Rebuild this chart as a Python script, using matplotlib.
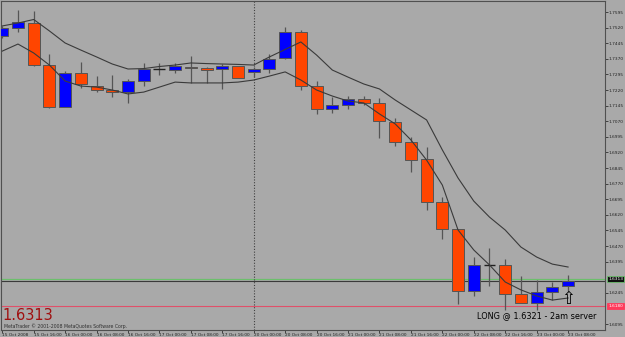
import matplotlib
matplotlib.use("Agg")
import matplotlib.pyplot as plt
import matplotlib.transforms as mtransforms
import numpy as np

# GBPUSD H4 candles, 15 Oct 08:00 .. 23 Oct 08:00
opens  = [1.7480, 1.7518, 1.7542, 1.7340, 1.7138, 1.7302, 1.7239, 1.7220, 1.7210, 1.7263,
          1.7321, 1.7316, 1.7333, 1.7327, 1.7319, 1.7335, 1.7305, 1.7319, 1.7374, 1.7499,
          1.7239, 1.7129, 1.7148, 1.7177, 1.7158, 1.7066, 1.6970, 1.6888, 1.6682, 1.6552,
          1.6254, 1.6379, 1.6379, 1.6239, 1.6196, 1.6249, 1.6278]
highs  = [1.7528, 1.7605, 1.7600, 1.7393, 1.7311, 1.7355, 1.7287, 1.7292, 1.7273, 1.7350,
          1.7350, 1.7350, 1.7383, 1.7331, 1.7345, 1.7335, 1.7331, 1.7393, 1.7523, 1.7508,
          1.7263, 1.7186, 1.7191, 1.7191, 1.7182, 1.7085, 1.6994, 1.6946, 1.6706, 1.6552,
          1.6417, 1.6460, 1.6408, 1.6326, 1.6307, 1.6297, 1.6331]
lows   = [1.7470, 1.7499, 1.7335, 1.7133, 1.7136, 1.7230, 1.7210, 1.7186, 1.7158, 1.7239,
          1.7292, 1.7302, 1.7254, 1.7254, 1.7225, 1.7278, 1.7282, 1.7302, 1.7369, 1.7220,
          1.7105, 1.7109, 1.7129, 1.7148, 1.6989, 1.6951, 1.6826, 1.6643, 1.6504, 1.6191,
          1.6230, 1.6278, 1.6162, 1.6196, 1.6162, 1.6210, 1.6249]
closes = [1.7518, 1.7547, 1.7340, 1.7138, 1.7302, 1.7249, 1.7220, 1.7210, 1.7263, 1.7321,
          1.7321, 1.7335, 1.7327, 1.7316, 1.7337, 1.7279, 1.7321, 1.7369, 1.7499, 1.7239,
          1.7129, 1.7148, 1.7177, 1.7158, 1.7071, 1.6970, 1.6883, 1.6682, 1.6552, 1.6254,
          1.6379, 1.6379, 1.6239, 1.6196, 1.6249, 1.6273, 1.6302]

ma_slow = [1.7528, 1.7542, 1.7559, 1.7504, 1.7446, 1.7412, 1.7379, 1.7345, 1.7321, 1.7323,
           1.7333, 1.7340, 1.7350, 1.7347, 1.7345, 1.7343, 1.7340, 1.7379, 1.7415, 1.7451,
           1.7388, 1.7316, 1.7282, 1.7249, 1.7225, 1.7172, 1.7124, 1.7076, 1.6932, 1.6797,
           1.6686, 1.6609, 1.6547, 1.6465, 1.6417, 1.6383, 1.6369]
ma_fast = [1.7407, 1.7441, 1.7398, 1.7340, 1.7263, 1.7239, 1.7234, 1.7220, 1.7201, 1.7210,
           1.7234, 1.7258, 1.7254, 1.7254, 1.7254, 1.7258, 1.7268, 1.7287, 1.7307, 1.7268,
           1.7220, 1.7191, 1.7167, 1.7158, 1.7105, 1.7057, 1.6980, 1.6883, 1.6763, 1.6547,
           1.6451, 1.6379, 1.6297, 1.6259, 1.6230, 1.6210, 1.6220]

date_labels = ["15 Oct 2008", "15 Oct 16:00", "16 Oct 00:00", "16 Oct 08:00", "16 Oct 16:00",
               "17 Oct 00:00", "17 Oct 08:00", "17 Oct 16:00", "20 Oct 00:00", "20 Oct 08:00",
               "20 Oct 16:00", "21 Oct 00:00", "21 Oct 08:00", "21 Oct 16:00", "22 Oct 00:00",
               "22 Oct 08:00", "22 Oct 16:00", "23 Oct 00:00", "23 Oct 08:00"]
price_ticks = [1.7595, 1.7520, 1.7445, 1.7370, 1.7295, 1.7220, 1.7145, 1.7070, 1.6995,
               1.6920, 1.6845, 1.6770, 1.6695, 1.6620, 1.6545, 1.6470, 1.6395, 1.6245, 1.6095]
bid = 1.6313
bid_line2 = 1.6304
stop_line = 1.6180
week_start = 16

BG = "#a9a9a9"
UP = "#0000ff"
DOWN = "#ff4500"
EDGE = "#555555"
FS = 3.1

fig = plt.figure(figsize=(6.25, 3.37), dpi=100, facecolor=BG)
ax = fig.add_axes([0.0016, 7 / 337, 604 / 625, 329 / 337], facecolor=BG)

x = np.arange(len(opens))
o = np.array(opens); c = np.array(closes)
h = np.array(highs); l = np.array(lows)

ax.vlines(x, l, h, color=EDGE, lw=0.9, zorder=2)
up = c > o
dn = c < o
ax.bar(x[up], (c - o)[up], bottom=o[up], width=0.76, color=UP, edgecolor=EDGE, lw=0.7, zorder=3)
ax.bar(x[dn], (c - o)[dn], bottom=o[dn], width=0.76, color=DOWN, edgecolor=EDGE, lw=0.7, zorder=3)
doji = c == o
ax.hlines(o[doji], x[doji] - 0.38, x[doji] + 0.38, color="#202020", lw=1.0, zorder=3)

ax.plot(x, ma_slow, color="#3a3a3a", lw=0.8, zorder=4)
ax.plot(x, ma_fast, color="#3a3a3a", lw=0.8, zorder=4)

ax.axhline(bid, color="#6cbf6c", lw=0.9, zorder=1)
ax.axhline(bid_line2, color="#3a3a3a", lw=0.8, zorder=1)
ax.axhline(stop_line, color="#e0506a", lw=0.8, zorder=1)
ax.axvline(week_start, color="#404040", lw=0.8, ls=(0, (1, 1.5)), zorder=1)

ax.set_xlim(-0.08, 38.35)
ax.set_ylim(1.60662, 1.76479)

ax.set_xticks(x[::2])
ax.set_xticklabels(date_labels, fontsize=FS, ha="left", color="#202020")
ax.tick_params(axis="x", length=2, width=0.6, pad=0.3, colors="#303030")
ax.yaxis.tick_right()
ax.set_yticks(price_ticks)
ax.set_yticklabels([f"{v:.4f}" for v in price_ticks], fontsize=FS, color="#202020")
ax.tick_params(axis="y", length=2, width=0.6, pad=0.5, colors="#303030")
for lab in ax.get_xticklabels() + ax.get_yticklabels():
    lab.set_color("#202020")
for s in ax.spines.values():
    s.set_color("#505050")
    s.set_linewidth(0.8)

# price boxes on the right scale
tr = mtransforms.blended_transform_factory(ax.transAxes, ax.transData)
ax.text(1.005, bid, f"{bid:.4f}", transform=tr, fontsize=FS, color="white", va="center", ha="left",
        bbox=dict(boxstyle="square,pad=0.2", fc="#101010", ec="#6cbf6c", lw=0.6), clip_on=False)
ax.text(1.005, stop_line, f"{stop_line:.4f}", transform=tr, fontsize=FS, color="white", va="center",
        ha="left", bbox=dict(boxstyle="square,pad=0.2", fc="#ff3a5a", ec="#ff3a5a", lw=0.6), clip_on=False)

# annotations
ax.text(x[-1], lows[-1] - 0.0035, "\u21e7", fontsize=12, ha="center", va="center", color="black", zorder=5)
ax.text(0.788, 0.043, "LONG @ 1.6321 - 2am server", transform=ax.transAxes, fontsize=5.9,
        color="black", ha="left", va="center")
ax.text(0.003, 0.045, "1.6313", transform=ax.transAxes, fontsize=10.5, color="#a01010",
        ha="left", va="center")
ax.text(0.005, 0.013, "MetaTrader \u00a9 2001-2008 MetaQuotes Software Corp.", transform=ax.transAxes,
        fontsize=3.3, color="#303030", ha="left", va="center")

fig.savefig("out.png", dpi=100, facecolor=BG)
